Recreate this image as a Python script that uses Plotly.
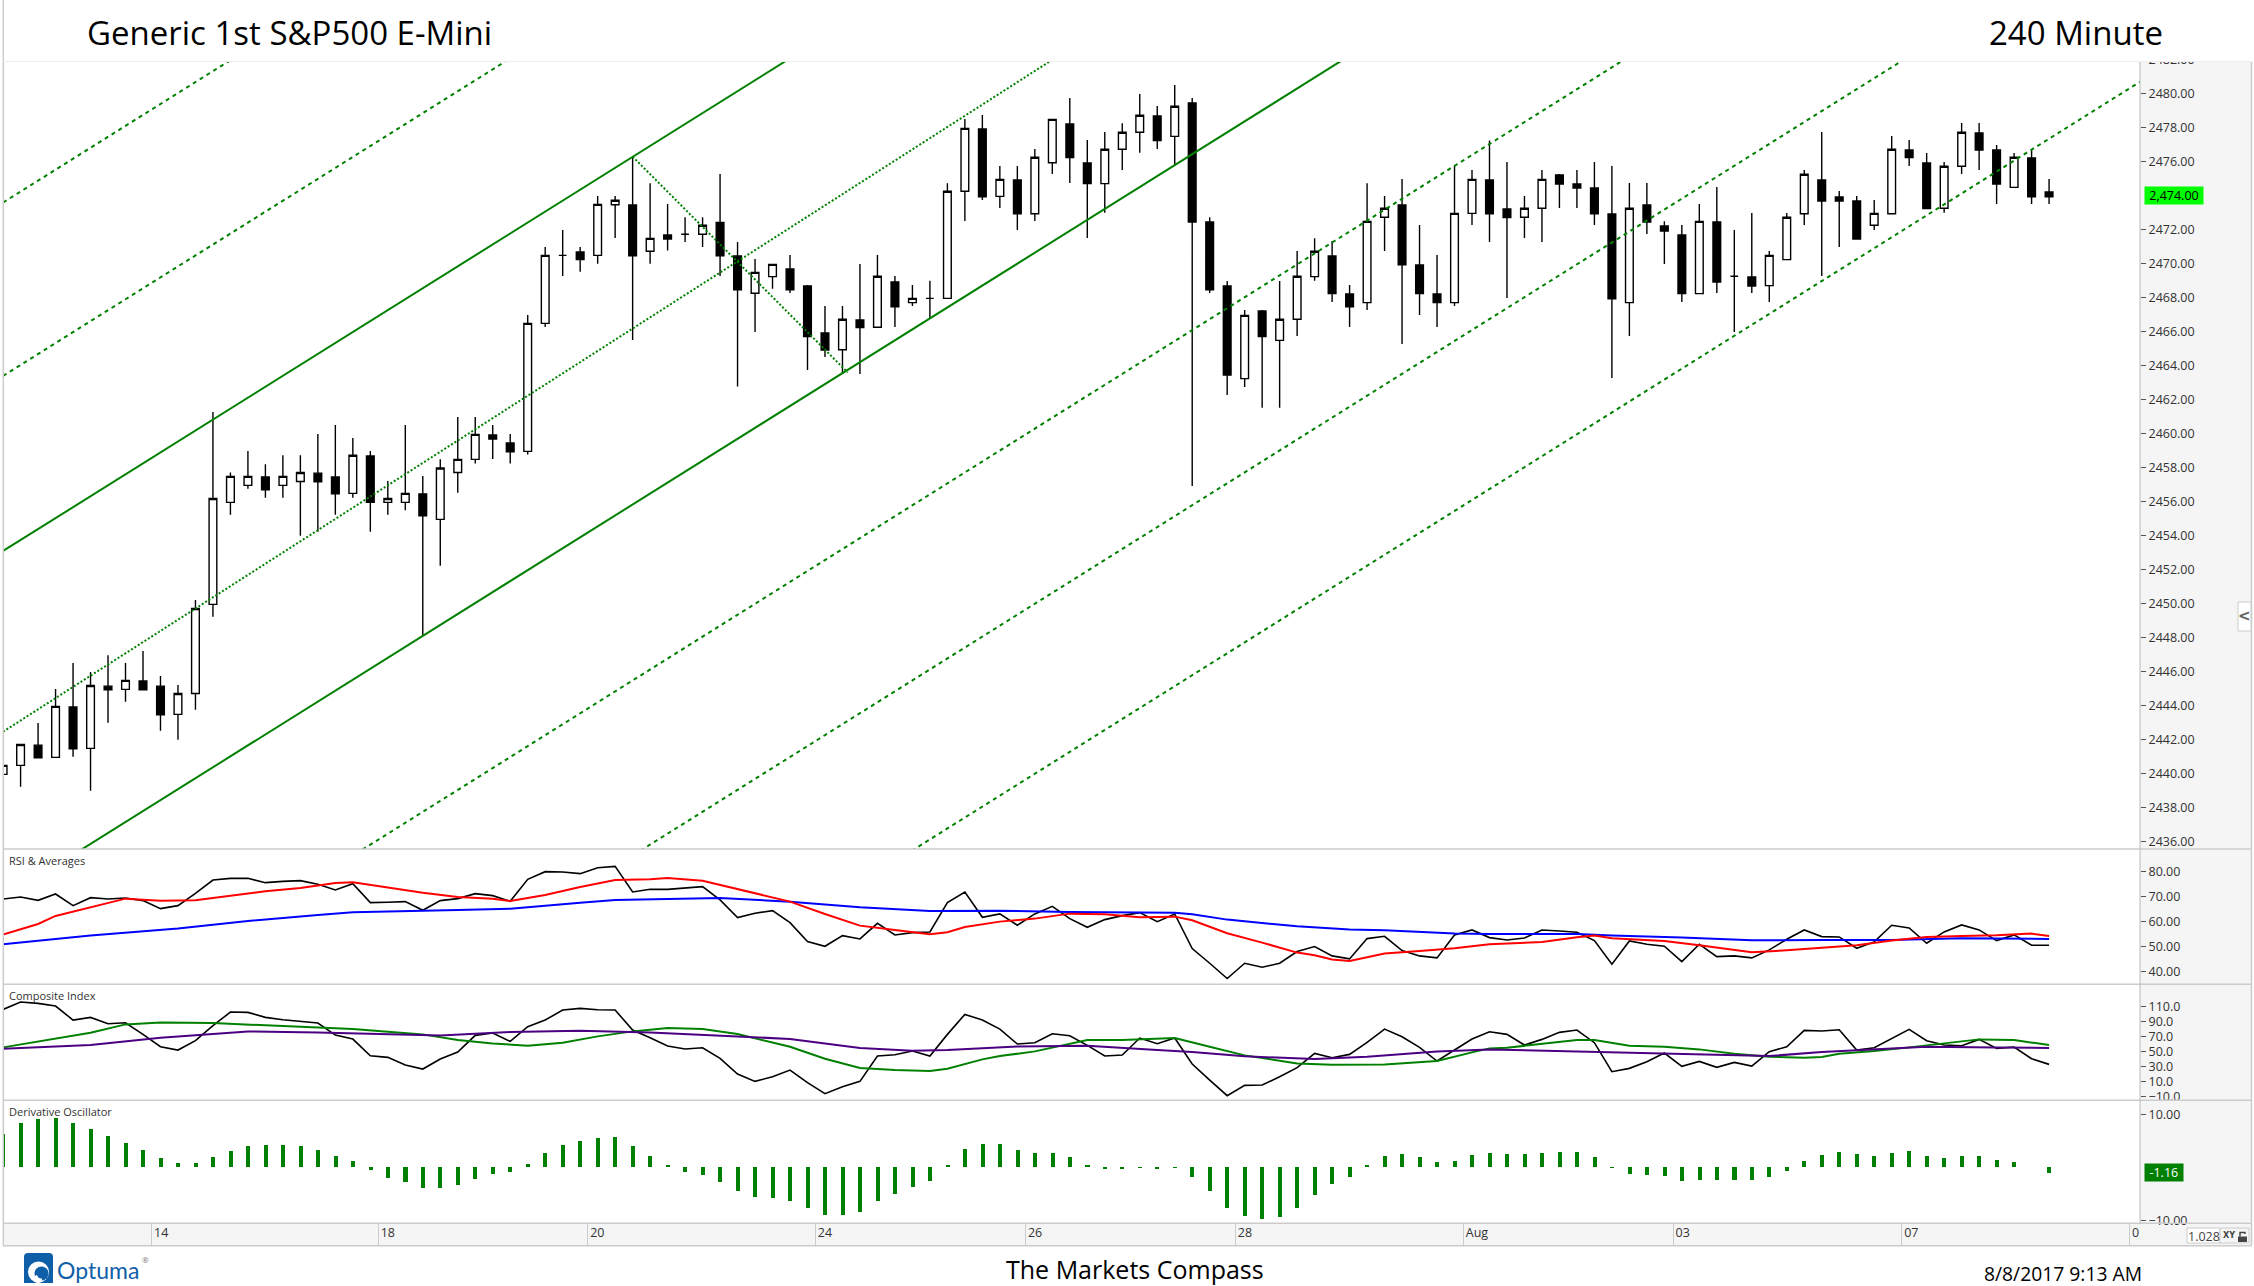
import plotly.graph_objects as go

PAGE_W = 2254
PAGE_H = 1286

# candles, one entry per 240 minute bar
opens = [2439.96, 2440.49, 2441.68, 2440.96, 2443.92, 2441.49, 2445.15, 2444.96, 2445.45, 2445.15,
         2443.49, 2444.72, 2449.96, 2455.96, 2456.96, 2457.45, 2456.96, 2457.19, 2457.68, 2457.45,
         2456.49, 2458.69, 2455.96, 2455.96, 2456.45, 2454.96, 2457.72, 2458.49, 2459.92, 2459.45,
         2458.96, 2466.49, 2470.49, 2470.69, 2470.49, 2473.47, 2473.45, 2470.73, 2471.69, 2471.73,
         2471.73, 2472.43, 2470.45, 2468.26, 2469.24, 2469.69, 2468.69, 2465.92, 2464.94, 2466.69,
         2466.26, 2468.92, 2467.71, 2467.96, 2467.96, 2474.26, 2477.92, 2473.96, 2474.92, 2472.94,
         2475.94, 2478.22, 2475.92, 2474.71, 2476.73, 2477.73, 2478.69, 2477.49, 2479.45, 2472.45,
         2468.69, 2463.24, 2467.22, 2465.49, 2466.73, 2469.24, 2470.45, 2468.22, 2467.71, 2472.73,
         2473.45, 2469.92, 2468.22, 2467.71, 2472.96, 2474.92, 2473.22, 2472.73, 2473.26, 2475.22,
         2474.69, 2474.45, 2472.92, 2467.71, 2473.45, 2472.22, 2471.69, 2468.24, 2472.45, 2469.26,
         2469.22, 2468.71, 2470.24, 2472.94, 2474.92, 2473.92, 2473.69, 2472.26, 2472.94, 2476.69,
         2475.92, 2473.26, 2475.73, 2477.69, 2476.69, 2474.49, 2476.22, 2474.22]
highs = [2440.49, 2441.72, 2442.98, 2444.98, 2446.51, 2445.98, 2446.96, 2446.51, 2447.21, 2445.74,
         2445.21, 2450.21, 2461.28, 2457.72, 2458.98, 2458.2, 2458.73, 2458.73, 2459.98, 2460.51,
         2459.75, 2458.98, 2457.21, 2460.51, 2457.51, 2458.49, 2460.98, 2460.98, 2460.51, 2459.98,
         2466.98, 2470.98, 2471.98, 2470.98, 2473.98, 2473.98, 2476.3, 2474.73, 2473.51, 2472.73,
         2472.73, 2475.28, 2471.28, 2470.28, 2469.96, 2470.51, 2468.75, 2467.51, 2467.51, 2469.98,
         2470.51, 2469.28, 2468.75, 2469.0, 2474.73, 2478.51, 2478.75, 2475.75, 2475.75, 2476.75,
         2478.49, 2479.75, 2477.28, 2477.75, 2478.26, 2479.98, 2479.28, 2480.51, 2479.75, 2472.73,
         2468.98, 2467.28, 2467.28, 2468.98, 2470.75, 2471.49, 2471.33, 2468.75, 2474.73, 2473.98,
         2474.98, 2472.28, 2470.51, 2475.77, 2475.51, 2477.24, 2475.98, 2473.98, 2475.51, 2475.28,
         2475.51, 2475.98, 2475.75, 2474.75, 2474.75, 2472.49, 2472.28, 2473.51, 2474.51, 2471.98,
         2472.98, 2470.75, 2472.98, 2475.51, 2477.75, 2474.28, 2473.98, 2473.75, 2477.51, 2477.28,
         2476.51, 2475.98, 2478.28, 2478.28, 2476.98, 2476.51, 2476.75, 2474.98]
lows = [2439.96, 2439.23, 2440.94, 2440.96, 2441.0, 2439.0, 2443.0, 2444.23, 2444.94, 2442.53,
        2442.0, 2443.76, 2449.23, 2455.23, 2456.76, 2456.23, 2456.23, 2454.0, 2454.23, 2455.23,
        2456.23, 2454.23, 2455.23, 2455.5, 2448.11, 2452.23, 2456.53, 2458.24, 2458.51, 2458.24,
        2458.77, 2466.28, 2469.28, 2469.53, 2470.0, 2471.51, 2465.51, 2470.0, 2470.77, 2471.28,
        2470.98, 2469.28, 2462.77, 2465.98, 2468.53, 2468.28, 2463.75, 2464.51, 2463.55, 2463.51,
        2466.26, 2466.28, 2467.51, 2466.79, 2467.96, 2472.51, 2473.75, 2473.28, 2471.98, 2472.51,
        2475.28, 2474.75, 2471.51, 2473.0, 2475.51, 2476.53, 2476.75, 2475.81, 2456.92, 2468.28,
        2462.28, 2462.75, 2461.53, 2461.53, 2465.75, 2469.0, 2467.75, 2466.28, 2467.28, 2470.75,
        2465.28, 2466.98, 2466.28, 2467.51, 2472.28, 2471.28, 2467.98, 2471.51, 2471.28, 2473.28,
        2473.28, 2472.28, 2463.28, 2465.75, 2471.75, 2469.98, 2467.75, 2468.24, 2468.28, 2465.98,
        2468.28, 2467.75, 2470.24, 2472.28, 2469.28, 2470.98, 2471.45, 2471.98, 2472.94, 2475.75,
        2473.24, 2473.0, 2475.28, 2475.51, 2473.51, 2474.49, 2473.51, 2473.51]
closes = [2440.49, 2441.72, 2440.94, 2443.96, 2441.47, 2445.19, 2444.94, 2445.49, 2444.94, 2443.47,
          2444.72, 2449.72, 2456.19, 2457.49, 2457.49, 2456.7, 2457.49, 2457.72, 2457.17, 2456.47,
          2458.73, 2455.96, 2456.19, 2456.49, 2455.17, 2457.98, 2458.49, 2459.96, 2459.69, 2458.94,
          2466.49, 2470.49, 2470.49, 2470.24, 2473.49, 2473.73, 2470.47, 2471.49, 2471.45, 2471.73,
          2472.26, 2470.47, 2468.47, 2469.49, 2469.96, 2468.47, 2465.71, 2464.92, 2466.73, 2466.24,
          2469.26, 2467.47, 2467.96, 2467.96, 2474.26, 2477.96, 2473.94, 2474.96, 2472.94, 2476.26,
          2478.49, 2476.24, 2474.71, 2476.73, 2477.73, 2478.73, 2477.24, 2479.26, 2472.45, 2468.47,
          2463.45, 2466.96, 2465.71, 2466.73, 2469.26, 2470.73, 2468.24, 2467.47, 2472.49, 2473.26,
          2469.94, 2468.24, 2467.71, 2472.96, 2474.96, 2472.94, 2472.71, 2473.26, 2474.96, 2474.69,
          2474.45, 2472.94, 2467.94, 2473.26, 2472.45, 2471.92, 2468.24, 2472.49, 2468.92, 2469.26,
          2468.69, 2470.49, 2472.73, 2475.26, 2473.69, 2473.69, 2471.45, 2472.96, 2476.73, 2476.24,
          2473.24, 2475.73, 2477.73, 2476.69, 2474.69, 2476.26, 2473.94, 2473.94]

# channel lines, value at the left edge and at the price axis
channel_ends = [0, 122.2]
channel_solid = [[2453.1, 2531.8], [2432.65, 2511.35]]
channel_median = [2442.47, 2522.97]
channel_dashed = [[2473.6, 2552.3], [2463.4, 2542.1], [2422.3, 2501.0], [2412.0, 2490.7], [2402.0, 2480.7]]
pivot_bars = [36, 48.3]
pivot_line = [2476.3, 2463.6]

rsi = [69.07, 69.87, 68.53, 71.07, 66.4, 69.6, 69.07, 69.47, 68.4, 65.2, 66.4, 71.33, 76.67, 77.33, 77.33,
       75.6, 76.13, 76.4, 74.93, 72.67, 75.2, 67.6, 67.73, 68.0, 64.53, 68.4, 69.2, 71.2, 70.4, 68.13,
       76.93, 80.0, 79.87, 79.2, 81.6, 82.13, 71.87, 72.93, 72.93, 73.47, 74.0, 68.67, 61.6,
       63.33, 64.4, 59.6, 52.0, 50.13, 54.4, 53.07, 59.33, 54.67, 55.6, 55.87, 67.6, 71.87, 61.73, 63.07,
       58.53, 63.07, 66.13, 61.2, 57.73, 60.8, 62.4, 63.6, 60.0, 63.07, 49.2, 43.33, 37.2, 43.33, 41.73,
       43.33, 48.0, 50.0, 46.27, 45.07, 53.2, 54.13, 48.4, 46.27, 45.47, 54.67, 56.67, 53.6,
       52.67, 53.47, 56.67, 56.27, 55.73, 52.4, 42.93, 52.27, 50.93, 50.13, 44.0, 50.93, 46.0, 46.27,
       45.47, 48.67, 52.93, 56.67, 54.0, 53.87, 49.33, 51.87, 58.53, 57.47, 51.33, 55.87, 58.67, 56.67,
       52.4, 54.67, 50.53, 50.53]
rsi_fast_bars = [0, 2, 3, 5, 7, 9, 11, 13, 15, 17, 19, 20, 22, 24, 26, 28, 29, 31, 33, 35, 37, 38, 40, 42,
                 43, 45, 47, 49, 51, 53, 54, 55, 57, 59, 61, 63, 65, 67, 68, 70, 72, 74, 75, 76, 77, 79, 81, 83, 85,
                 88, 90, 91, 92, 94, 95, 97, 99, 100, 102, 104, 106, 108, 110, 112, 114, 116, 117]
rsi_fast = [54.8, 59.07, 62.27, 65.73, 69.2, 68.4, 68.53, 70.4, 72.13, 73.47, 75.47, 75.73, 73.6, 71.6, 69.87,
            69.2, 68.27, 70.67, 73.87, 76.67, 76.93, 77.47, 76.4, 73.07,
            71.6, 68.0, 63.07, 58.4, 56.67, 54.93, 55.73, 57.87, 60.0, 61.2, 63.2, 62.93, 61.73, 62.0, 60.53,
            55.33, 51.6, 47.6, 46.53, 44.8, 44.27, 47.2, 48.27, 49.33, 50.93,
            51.87, 53.73, 54.4, 53.33, 52.53, 52.27, 50.53, 48.67, 47.73, 48.53, 49.6, 50.53, 52.4, 53.87,
            54.27, 54.53, 55.2, 54.27]
rsi_slow_bars = [0, 5, 10, 14, 18, 20, 26, 29, 33, 35, 41, 42, 45, 49, 53, 57, 61, 67, 68, 70, 74, 77, 79, 83, 85,
                 90, 92, 96, 100, 104, 108, 112, 117]
rsi_slow = [50.93, 54.4, 57.2, 60.27, 62.67, 63.73, 64.67, 65.2, 67.6, 68.67, 69.47, 69.07, 68.0, 65.73, 64.27,
            64.4, 63.87, 63.6, 62.93, 60.8, 58.13, 56.8, 56.53, 55.2, 55.07,
            55.07, 54.4, 53.6, 52.53, 52.67, 52.67, 53.33, 53.07]

composite = [106.44, 116.22, 114.44, 110.89, 92.22, 95.78, 87.33, 88.67, 73.11, 56.67, 52.22, 64.67, 84.67,
             102.89, 102.44, 95.78, 92.67, 90.89, 88.22, 72.22, 66.89, 44.67, 42.44, 32.22, 26.89, 40.22,
             49.56, 71.78, 74.89, 63.78, 83.33, 92.22, 105.56, 107.78, 106.0, 105.56, 78.89, 68.67, 57.56,
             53.56, 55.33, 41.11, 20.22,
             10.44, 16.67, 25.56, 8.67, -6.0, 3.33, 10.44, 44.22, 46.0, 50.89, 44.22, 73.11, 99.78, 92.22,
             80.22, 60.22, 62.0, 74.0, 71.33, 58.44, 44.22, 45.56, 68.22, 60.67, 68.22, 33.56, 12.22, -8.67,
             5.11, 5.56, 16.67, 28.67, 47.78, 42.0, 46.44, 62.44, 80.22, 70.0, 55.78, 37.56, 52.22, 66.89, 76.67,
             73.11, 58.89, 66.44, 75.78, 78.89, 62.0, 23.33, 27.78, 36.67, 48.22, 30.44, 37.11, 29.11, 35.78,
             30.89, 50.0, 56.67, 78.44, 77.56, 79.33, 52.22, 55.33, 67.78, 79.78, 64.67, 58.89, 58.0, 66.44,
             54.44, 56.22, 40.67, 33.11]
composite_fast_bars = [0, 5, 7, 9, 12, 15, 18, 20, 24, 26, 28, 30, 32, 34, 36, 38, 40, 42,
                       45, 47, 49, 51, 53, 54, 56, 57, 59, 61, 62, 64, 66, 67, 69, 71, 74, 76, 79, 82, 84, 85,
                       86, 88, 90, 91, 93, 95, 97, 99, 101, 103, 104, 105, 107, 109, 111, 113, 115, 117]
composite_fast = [55.78, 75.33, 86.44, 89.11, 88.22, 85.11, 82.89, 80.22, 73.11, 65.56, 61.11, 58.0, 62.0, 70.44,
                  77.11, 81.56, 80.22, 73.56,
                  56.67, 40.67, 28.22, 25.56, 24.22, 27.33, 39.78, 44.22, 50.44, 60.22, 65.56, 65.56, 67.78, 68.22,
                  56.67, 45.11, 34.44, 32.67, 33.11, 37.56, 49.11, 54.44,
                  55.33, 60.22, 65.56, 65.56, 58.0, 56.67, 53.11, 47.33, 43.33, 42.0, 42.89, 47.33, 50.89, 55.78,
                  61.11, 66.44, 65.56, 58.89]
composite_slow_bars = [0, 5, 9, 12, 14, 18, 22, 25, 29, 33, 37, 40, 42,
                       45, 49, 52, 54, 58, 62, 66, 68, 71, 75, 78, 82, 85,
                       89, 94, 98, 101, 104, 107, 110, 114, 117]
composite_slow = [54.0, 58.89, 68.67, 73.56, 77.11, 75.78, 74.0, 71.78, 76.22, 78.0, 75.78, 73.11, 70.44,
                  66.89, 54.89, 51.33, 52.22, 57.11, 58.0, 52.22, 49.56, 43.78, 40.22, 43.33, 50.44, 53.11,
                  50.89, 47.78, 46.0, 44.22, 49.56, 53.11, 56.67, 55.78, 54.89]

derivative = [6.27, 8.28, 9.09, 9.22, 8.28, 7.21, 5.89, 4.51, 3.26, 1.76, 0.82, 0.82, 1.94, 3.07, 4.01, 4.2, 4.2,
              4.01, 3.26, 2.13, 1.19, -0.5, -2.01, -2.76, -3.89, -3.89, -3.32, -2.19, -1.25, -0.88, 0.63, 2.7,
              4.2, 4.95, 5.52, 5.71, 4.01, 2.13, 0.44, -0.88, -1.44, -2.76, -4.45,
              -5.58, -5.77, -6.33, -7.65, -8.97, -8.97, -8.4, -6.33, -5.02, -3.7, -2.57, 0.25, 3.45, 4.39, 4.39,
              3.26, 2.7, 2.7, 1.94, 0.44, -0.25, -0.25, -0.06, -0.19, -0.06, -1.88, -4.45, -7.65, -9.15, -9.72,
              -9.34, -7.65, -5.2, -3.13, -1.82, 0.25, 2.13, 2.51, 1.94, 1.0, 1.19, 2.32, 2.7,
              2.51, 2.51, 2.7, 2.88, 2.88, 1.94, -0.12, -1.25, -1.44, -1.63, -2.57, -2.38, -2.38, -2.38, -2.38,
              -1.82, -0.69, 1.19, 2.32, 2.88, 2.51, 2.13, 2.7, 3.07, 2.13, 1.76, 2.13, 2.13, 1.38, 1.0, 0.0, -1.07]

date_tick_bars = [8.49, 21.45, 33.43, 46.45, 58.46, 70.46, 83.5, 95.5, 108.57, 121.6]
date_tick_text = ["14", "18", "20", "24", "26", "28", "Aug", "03", "07", "0"]
# 2474.00 and 0.00 sit behind the last value tags, so they are left out
price_ticks = [t for t in range(2436, 2484, 2) if t != 2474]
rsi_ticks = [40, 50, 60, 70, 80]
composite_ticks = [-10, 10, 30, 50, 70, 90, 110]
derivative_ticks = [-10, 10]

bars = list(range(len(opens)))

GREEN = "#008000"
AXIS_FONT = dict(family="Open Sans", size=12.5, color="#333333")


def px_x(x):
    return x / PAGE_W


def px_y(y):
    return 1 - y / PAGE_H


def line_trace(x, y, color, width, axis, dash="solid"):
    return go.Scatter(x=x, y=y, mode="lines", line=dict(color=color, width=width, dash=dash),
                      xaxis="x" + axis, yaxis="y" + axis, hoverinfo="skip", showlegend=False)


fig = go.Figure()

for level in channel_dashed:
    fig.add_trace(line_trace(channel_ends, level, GREEN, 2, "", "4px,4px"))
for level in channel_solid:
    fig.add_trace(line_trace(channel_ends, level, GREEN, 2, ""))
fig.add_trace(line_trace(channel_ends, channel_median, GREEN, 2, "", "2px,2px"))
fig.add_trace(line_trace(pivot_bars, pivot_line, GREEN, 2, "", "2px,2px"))

fig.add_trace(go.Candlestick(
    x=bars, open=opens, high=highs, low=lows, close=closes, whiskerwidth=0,
    increasing=dict(line=dict(color="black", width=1.4), fillcolor="white"),
    decreasing=dict(line=dict(color="black", width=1.4), fillcolor="black"),
    showlegend=False))

fig.add_trace(line_trace(bars, rsi, "black", 1.6, "2"))
fig.add_trace(line_trace(rsi_slow_bars, rsi_slow, "#0000ff", 2, "2"))
fig.add_trace(line_trace(rsi_fast_bars, rsi_fast, "#ff0000", 2, "2"))

fig.add_trace(line_trace(bars, composite, "black", 1.6, "3"))
fig.add_trace(line_trace(composite_fast_bars, composite_fast, GREEN, 2, "3"))
fig.add_trace(line_trace(composite_slow_bars, composite_slow, "#4b0082", 2, "3"))

fig.add_trace(go.Bar(x=bars, y=derivative, width=0.23, marker=dict(color=GREEN, line_width=0),
                     xaxis="x4", yaxis="y4", showlegend=False))
# the date strip needs a trace of its own or plotly drops its axis
fig.add_trace(go.Scatter(x=date_tick_bars, y=[0.5] * len(date_tick_bars), mode="markers", marker=dict(opacity=0),
                         xaxis="x5", yaxis="y5", hoverinfo="skip", showlegend=False))

plot_left = px_x(3.8)
plot_right = px_x(2140)
x_range = [0.04, 122.2]
hidden_x = dict(domain=[plot_left, plot_right], range=x_range, showticklabels=False, ticks="",
                showgrid=False, zeroline=False, showline=False, rangeslider=dict(visible=False))


def price_axis(domain, value_range, ticks, fmt):
    return dict(domain=[px_y(domain[1]), px_y(domain[0])], range=value_range, side="right",
                tickvals=ticks, tickformat=fmt, ticks="outside", ticklen=5, tickcolor="#555555",
                tickfont=AXIS_FONT, showgrid=False, zeroline=False, showline=False)


fig.update_layout(
    width=PAGE_W, height=PAGE_H,
    margin=dict(l=0, r=0, t=0, b=0, autoexpand=False),
    paper_bgcolor="white", plot_bgcolor="rgba(0,0,0,0)",
    showlegend=False, boxgap=0.37, bargap=0,
    xaxis=dict(hidden_x, anchor="y"),
    xaxis2=dict(hidden_x, anchor="y2"),
    xaxis3=dict(hidden_x, anchor="y3"),
    xaxis4=dict(hidden_x, anchor="y4"),
    xaxis5=dict(domain=[plot_left, plot_right], range=x_range, anchor="y5", tickvals=date_tick_bars,
                ticktext=date_tick_text, ticks="inside", ticklen=22, tickcolor="#cccccc",
                ticklabelposition="inside right", ticklabelshift=2, tickfont=AXIS_FONT,
                showgrid=False, zeroline=False, showline=False),
    # the panel starts a little under the header so the 2482 label can be cut off by it
    yaxis=dict(price_axis((59.7, 849), [2435.57, 2482.0], price_ticks, ".2f"), anchor="x"),
    yaxis2=dict(price_axis((849, 984.3), [34.9, 89.08], rsi_ticks, ".2f"), anchor="x2"),
    yaxis3=dict(price_axis((984.3, 1100.3), [-14.8, 139.9], composite_ticks, ".1f"), anchor="x3"),
    yaxis4=dict(price_axis((1100.3, 1223.3), [-10.53, 12.6], derivative_ticks, ".2f"), anchor="x4"),
    yaxis5=dict(domain=[px_y(1245.7), px_y(1223.3)], range=[0, 1], anchor="x5", showticklabels=False,
                ticks="", showgrid=False, zeroline=False, showline=False),
)

paper = dict(xref="paper", yref="paper")


def box(x0, y0, x1, y1, fill, line_color=None, layer="above"):
    line = dict(color=line_color, width=1) if line_color else dict(width=0)
    fig.add_shape(type="rect", x0=px_x(x0), x1=px_x(x1), y0=px_y(y1), y1=px_y(y0), fillcolor=fill,
                  line=line, layer=layer, **paper)


def rule(x0, y0, x1, y1, color, width=1.5):
    fig.add_shape(type="line", x0=px_x(x0), x1=px_x(x1), y0=px_y(y0), y1=px_y(y1),
                  line=dict(color=color, width=width), layer="above", **paper)


def disc(cx, cy, radius, fill):
    fig.add_shape(type="circle", x0=px_x(cx - radius), x1=px_x(cx + radius), y0=px_y(cy + radius),
                  y1=px_y(cy - radius), fillcolor=fill, line_width=0, layer="above", **paper)


# grey side and date strips, panel rules
box(2140, 61.7, 2251.5, 1245.7, "#f5f5f5", layer="below")
box(3.8, 1223.3, 2140, 1245.7, "#f5f5f5", layer="below")
for rule_y in [849, 984.3, 1100.3, 1223.3, 1245.7]:
    rule(3, rule_y, 2251.5, rule_y, "#cccccc")
rule(3.3, 0, 3.3, 1245.7, "#cccccc")
rule(2251.5, 61.7, 2251.5, 1245.7, "#cccccc")
rule(2140, 61.7, 2140, 1223.3, "#bbbbbb", 1)
# the header covers the clipped top tick label
box(4, 0, 2254, 61.2, "white")
rule(3, 61.5, 2251.5, 61.5, "#eeeeee", 1)

# panel toggle on the right edge
box(2238, 602, 2251, 631, "white", "#cccccc")

# scale and lock box in the corner
box(2187, 1228, 2220, 1243, "white", "#cccccc")
box(2220, 1228, 2249, 1243, "#f5f5f5", "#cccccc")
box(2238, 1236.5, 2247, 1242, "#444444")
fig.add_shape(type="path", path="M %f,%f L %f,%f L %f,%f L %f,%f" % (
    px_x(2240), px_y(1236.5), px_x(2240), px_y(1232.5), px_x(2245), px_y(1232.5), px_x(2245), px_y(1234)),
    line=dict(color="#444444", width=1.5), layer="above", **paper)

# Optuma mark
fig.add_shape(type="path", path="M %f,%f L %f,%f Q %f,%f %f,%f L %f,%f Q %f,%f %f,%f L %f,%f L %f,%f Z" % (
    px_x(24), px_y(1283), px_x(24), px_y(1257), px_x(24), px_y(1253), px_x(28), px_y(1253),
    px_x(49), px_y(1253), px_x(53), px_y(1253), px_x(53), px_y(1257), px_x(53), px_y(1283), px_x(24), px_y(1283)),
    fillcolor="#0f5fa8", line_width=0, layer="above", **paper)
disc(38.5, 1272, 10.5, "white")
disc(41.5, 1273.5, 7, "#0f5fa8")
disc(38, 1279, 4, "white")
disc(41.5, 1274, 4.5, "#0f5fa8")


def text(x, y, label, size, color="black", anchor="left", family="Open Sans", weight="normal", **kwargs):
    fig.add_annotation(x=px_x(x), y=px_y(y), xref="paper", yref="paper", text=label, showarrow=False,
                       xanchor=anchor, yanchor="middle", align="center" if "width" in kwargs else anchor,
                       font=dict(family=family, size=size, color=color, weight=weight), borderpad=0, **kwargs)


text(86, 33, "Generic 1st S&amp;P500 E-Mini", 33)
text(2163.5, 33, "240 Minute", 33, anchor="right")
text(7.5, 860.5, "RSI &amp; Averages", 11, color="#333333")
text(7.5, 995.5, "Composite Index", 11, color="#333333")
text(7.5, 1111.5, "Derivative Oscillator", 11, color="#333333")
text(1135, 1269, "The Markets Compass", 25, anchor="center")
text(2063, 1273, "8/8/2017 9:13 AM", 19.3, anchor="center")
text(56, 1270, "Optuma", 23, color="#0f5fa8", family="Lato")
text(141, 1259, "®", 8, color="#777777")
text(2174, 195.5, "2,474.00", 12.5, anchor="center", bgcolor="#00ff00", width=58, height=17)
text(2164, 1172.4, "-1.16", 12.5, color="white", anchor="center", bgcolor=GREEN, width=37.6, height=16.7)
text(2244.5, 616, "&lt;", 15, color="#666666", anchor="center", family="DejaVu Sans", weight="bold")
text(2203.5, 1236, "1.028", 12.5, color="#444444", anchor="center")
text(2229, 1235.5, "XY", 8, color="#444444", anchor="center", family="DejaVu Sans", weight="bold")

fig.write_html("out.html", config=dict(displayModeBar=False), post_script="document.body.style.margin='0';")
